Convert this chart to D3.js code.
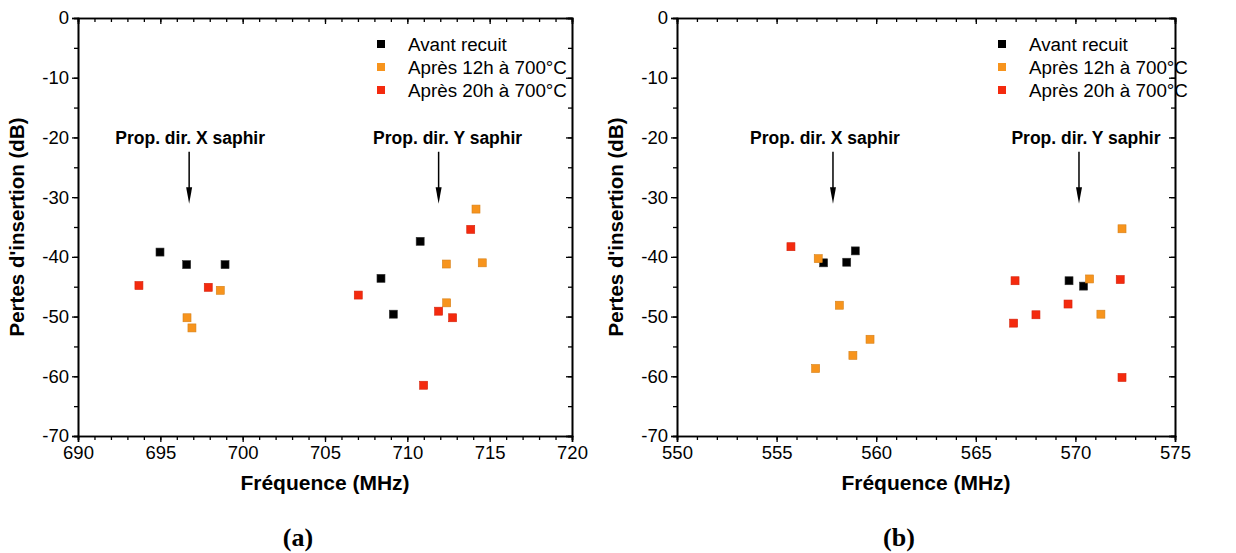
<!DOCTYPE html>
<html><head><meta charset="utf-8">
<script src="https://cdn.jsdelivr.net/npm/d3@7"></script>
<style>
body{margin:0;background:#fff;}
svg{display:block;}
svg text{font-family:Arial,"Liberation Sans",Helvetica,sans-serif;}
</style></head>
<body><svg id="c" width="1236" height="553"></svg>
<script>
// ---- Data ----
const seriesNames = ["Avant recuit", "Après 12h à 700°C", "Après 20h à 700°C"];
const seriesColors = ["#000000", "#f7941d", "#f42a0e"];

// Panel (a)
const aAvantX = [694.98, 696.6, 698.93, 708.4, 709.15, 710.78];
const aAvantY = [-39.2, -41.3, -41.3, -43.6, -49.6, -37.4];
const a12hX = [698.64, 696.62, 696.92, 714.17, 712.37, 714.55, 712.39];
const a12hY = [-45.6, -50.2, -51.9, -32.0, -41.2, -41.0, -47.7];
const a20hX = [693.7, 697.91, 713.85, 707.02, 711.9, 712.75, 710.99];
const a20hY = [-44.8, -45.1, -35.4, -46.4, -49.1, -50.2, -61.5];

// Panel (b)
const bAvantX = [557.36, 558.52, 558.95, 569.68, 570.41];
const bAvantY = [-41.0, -40.9, -39.0, -44.0, -44.9];
const b12hX = [557.09, 558.15, 559.69, 558.83, 556.96, 570.71, 571.28, 572.34];
const b12hY = [-40.3, -48.1, -53.8, -56.5, -58.7, -43.7, -49.6, -35.3];
const b20hX = [555.72, 566.97, 566.9, 568.02, 569.63, 572.25, 572.34];
const b20hY = [-38.3, -44.0, -51.1, -49.7, -47.9, -43.8, -60.2];

const panelLetters = ["(a)", "(b)"];
const aXDomain = [690, 720];
const bXDomain = [550, 575];
const yDomain = [-70, 0];
const yTicks = [0, -10, -20, -30, -40, -50, -60, -70];
const aXTicks = [690, 695, 700, 705, 710, 715, 720];
const bXTicks = [550, 555, 560, 565, 570, 575];
const annotLabels = ["Prop. dir. X saphir", "Prop. dir. Y saphir"];
const aAnnotX = [696.75, 711.9];
const bAnnotX = [557.83, 570.18];

const svg = d3.select("#c");
const FONT = "Arial, 'Liberation Sans', Helvetica, sans-serif";

function panel(cfg) {
  const {left, right, top, bottom, xDomain, xTicks, series, letter, annotX, legendX, labelOffsets} = cfg;
  const x = d3.scaleLinear().domain(xDomain).range([left, right]);
  const y = d3.scaleLinear().domain(yDomain).range([bottom, top]);
  const g = svg.append("g");

  const xMinor = d3.range(xDomain[0], xDomain[1] + 0.001, 1);
  const yMinor = d3.range(yDomain[0], yDomain[1] + 0.001, 5);
  const fmt = d => String(d);

  g.append("g").attr("transform", `translate(0,${bottom})`)
    .call(d3.axisBottom(x).tickValues(xMinor).tickSize(4).tickFormat(""));
  g.append("g").attr("transform", `translate(0,${bottom})`)
    .call(d3.axisBottom(x).tickValues(xTicks).tickSize(6).tickPadding(4).tickFormat(fmt))
    .call(s => s.selectAll("text").attr("font-size", 18.5).attr("fill", "#000"));
  g.append("g").attr("transform", `translate(0,${top})`)
    .call(d3.axisBottom(x).tickValues(xMinor).tickSize(4).tickFormat(""));
  g.append("g").attr("transform", `translate(0,${top})`)
    .call(d3.axisBottom(x).tickValues(xTicks).tickSize(6).tickFormat(""));
  g.append("g").attr("transform", `translate(${left},0)`)
    .call(d3.axisLeft(y).tickValues(yMinor).tickSize(4).tickFormat(""));
  g.append("g").attr("transform", `translate(${left},0)`)
    .call(d3.axisLeft(y).tickValues(yTicks).tickSize(6).tickPadding(3).tickFormat(fmt))
    .call(s => s.selectAll("text").attr("font-size", 18.5).attr("fill", "#000"));
  g.append("g").attr("transform", `translate(${right},0)`)
    .call(d3.axisLeft(y).tickValues(yMinor).tickSize(4).tickFormat(""));
  g.append("g").attr("transform", `translate(${right},0)`)
    .call(d3.axisLeft(y).tickValues(yTicks).tickSize(6).tickFormat(""));

  g.selectAll("g").attr("font-family", FONT);
  g.selectAll(".domain").attr("stroke", "#000").attr("stroke-width", 1.6);
  g.selectAll(".tick line").attr("stroke", "#000").attr("stroke-width", 1.3);

  g.append("text").attr("x", (left + right) / 2).attr("y", bottom + 54)
    .attr("text-anchor", "middle").attr("font-weight", "bold").attr("font-size", 21)
    .text("Fréquence (MHz)");
  g.append("text").attr("transform", `translate(${left - 54},${(top + bottom) / 2}) rotate(-90)`)
    .attr("text-anchor", "middle").attr("font-weight", "bold").attr("font-size", 20.5)
    .text("Pertes d'insertion (dB)");
  g.append("text").attr("x", (left + right) / 2 - 27).attr("y", 546)
    .attr("text-anchor", "middle").attr("font-weight", "bold").attr("font-size", 26)
    .style("font-family", "'Liberation Serif','Times New Roman',serif")
    .text(letter);

  annotX.forEach((f, i) => {
    const ax = x(f);
    g.append("text").attr("x", ax + labelOffsets[i]).attr("y", 144)
      .attr("text-anchor", "middle").attr("font-weight", "bold").attr("font-size", 17.5)
      .text(annotLabels[i]);
    g.append("line").attr("x1", ax).attr("x2", ax).attr("y1", y(-22.4)).attr("y2", y(-29.5))
      .attr("stroke", "#000").attr("stroke-width", 1.5);
    g.append("path").attr("d", `M${ax - 3},${y(-29.5) - 7} L${ax + 3},${y(-29.5) - 7} L${ax},${y(-31.1)} Z`)
      .attr("fill", "#000");
  });

  series.forEach((s, i) => {
    g.append("g").selectAll("rect").data(d3.zip(s[0], s[1])).join("rect")
      .attr("x", d => x(d[0]) - 4).attr("y", d => y(d[1]) - 4)
      .attr("width", 8).attr("height", 8)
      .attr("fill", seriesColors[i])
      .attr("stroke", i === 0 ? "#333" : d3.color(seriesColors[i]).darker(0.4))
      .attr("stroke-width", 0.6);
  });

  seriesNames.forEach((n, i) => {
    const ly = 44 + i * 23;
    g.append("rect").attr("x", legendX - 4).attr("y", ly - 4).attr("width", 8).attr("height", 8)
      .attr("fill", seriesColors[i]);
    g.append("text").attr("x", legendX + 27).attr("y", ly + 6.5)
      .attr("font-size", 18.8).text(n);
  });
}

panel({left: 78, right: 572, top: 18, bottom: 436, xDomain: aXDomain, xTicks: aXTicks,
  series: [[aAvantX, aAvantY], [a12hX, a12hY], [a20hX, a20hY]], letter: panelLetters[0],
  annotX: aAnnotX, legendX: 381, labelOffsets: [1, 9]});
panel({left: 677, right: 1175, top: 18, bottom: 436, xDomain: bXDomain, xTicks: bXTicks,
  series: [[bAvantX, bAvantY], [b12hX, b12hY], [b20hX, b20hY]], letter: panelLetters[1],
  annotX: bAnnotX, legendX: 1002, labelOffsets: [-8, 7]});
</script></body></html>
